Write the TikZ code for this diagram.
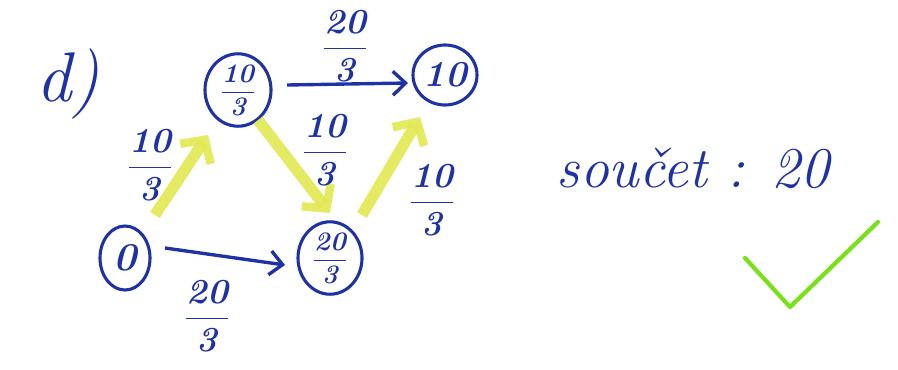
\documentclass[tikz,border=0pt]{standalone}
\usetikzlibrary{shapes.geometric,arrows.meta,calc}
\definecolor{ink}{RGB}{30,50,165}
\definecolor{hl}{RGB}{226,232,80}
\definecolor{tick}{RGB}{120,225,25}
\newcommand{\fr}[2]{$\displaystyle\frac{\hbox{\bfseries\itshape #1}}{\hbox{\bfseries\itshape #2}}$}
\begin{document}
\begin{tikzpicture}[x=0.025cm,y=-0.025cm,
  vert/.style={draw=ink,line width=2.2pt,ellipse,inner sep=0pt,text=ink,font=\fontsize{19}{20}\selectfont\bfseries\itshape},
  lab/.style={text=ink,font=\fontsize{25}{28}\selectfont\bfseries\itshape},
  inkarrow/.style={draw=ink,line width=2.4pt,-{Straight Barb[length=9pt,width=17pt,line width=2.4pt]}},
  hlarrow/.style={draw=hl,line width=8pt,opacity=0.9,-{Straight Barb[length=12pt,width=26pt,line width=6pt]}}]
\useasboundingbox (0,0) rectangle (898,369);
\fill[white] (0,0) rectangle (898,369);
% vertices
\node[vert,minimum width=1.25cm,minimum height=1.6cm] (n0) at (125,258) {\fontsize{28}{30}\selectfont\itshape 0};
\node[vert,minimum width=1.65cm,minimum height=1.45cm] (n103) at (238,90) {\fr{10}{3}};
\node[vert,minimum width=1.6cm,minimum height=1.45cm] (n203) at (330,258) {\fr{20}{3}};
\node[vert,minimum width=1.6cm,minimum height=1.5cm] (n10) at (445,75) {\fontsize{26}{28}\selectfont\itshape 10};
% highlighted arrows
\draw[hlarrow] ($(n0.center)+(30,-43)$) -- ($(n103.center)+(-30,45)$);
\draw[hlarrow] ($(n103.center)+(20,30)$) -- ($(n203.center)+(0,-45)$);
\draw[hlarrow] ($(n203.center)+(32,-43)$) -- ($(n10.center)+(-25,42)$);
% ink arrows
\draw[inkarrow] ($(n0.center)+(40,-10)$) -- ($(n203.center)+(-45,7)$);
\draw[inkarrow] ($(n103.center)+(49,-5)$) -- ($(n10.center)+(-37,8)$);
% edge labels
\node[lab] (l1) at (345,46) {\fr{20}{3}};
\node[lab] (l2) at (207,316) {\fr{20}{3}};
\node[lab] (l3) at (150,165) {\fr{10}{3}};
\node[lab] (l4) at (325,150) {\fr{10}{3}};
\node[lab] (l5) at (432,200) {\fr{10}{3}};
% texts
\node[text=ink,font=\fontsize{50}{54}\selectfont\itshape] (d) at (68,84) {d)};
\node[text=ink,font=\fontsize{41}{44}\selectfont\itshape,anchor=base west] (sum) at (552,187) {součet : 20};
% check mark
\coordinate (c1) at (745,258);
\coordinate (c2) at (790,307);
\coordinate (c3) at (878,222);
\draw[tick,line width=3pt,line cap=round,line join=round] (c1) -- (c2) -- (c3);
\end{tikzpicture}
\end{document}
